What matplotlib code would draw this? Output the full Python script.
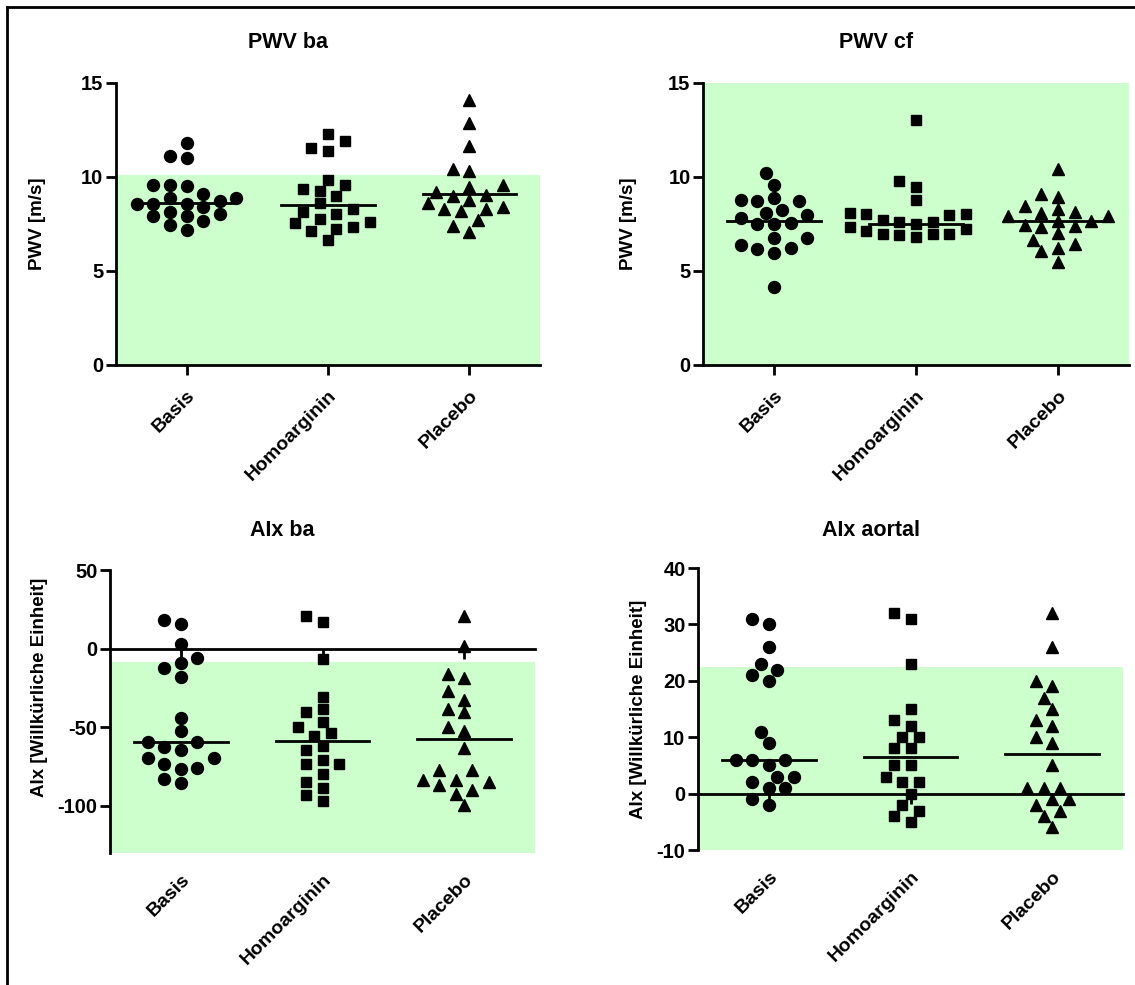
import numpy as np
import matplotlib
matplotlib.use('Agg')
import matplotlib.pyplot as plt
from matplotlib.lines import Line2D

plt.rcParams['font.family'] = ['Liberation Sans', 'DejaVu Sans']
plt.rcParams['font.weight'] = 'bold'
plt.rcParams['axes.unicode_minus'] = False

# groups shared by all four panels
groups = ['Basis', 'Homoarginin', 'Placebo']
markers = ['o', 's', '^']
marker_sizes = [8.6, 7.8, 9.0]

# PWV ba [m/s]
pwv_ba_basis = [11.8, 11.1, 11.0, 9.6, 9.5, 9.6, 9.1, 8.9, 8.9, 8.7, 8.55,
                8.4, 8.55, 8.55, 7.9, 8.15, 8.05, 7.9, 7.65, 7.45, 7.2]
pwv_ba_homo = [12.3, 11.9, 11.55, 11.4, 9.85, 9.6, 9.25, 9.35, 9.0, 8.6,
               8.3, 8.15, 8.05, 7.55, 7.75, 7.25, 7.6, 7.35, 7.15, 6.65]
pwv_ba_placebo = [14.1, 12.85, 11.65, 10.3, 10.45, 9.45, 9.55, 9.0, 9.05,
                  8.8, 8.6, 8.4, 8.3, 8.2, 8.3, 7.7, 7.4, 7.1, 9.2]
pwv_ba_means = [8.6, 8.5, 9.1]

# PWV cf [m/s]
pwv_cf_basis = [10.2, 9.6, 8.9, 8.7, 8.7, 8.8, 8.25, 8.1, 8.0, 7.8, 7.55,
                7.5, 7.5, 6.75, 6.75, 6.4, 6.25, 6.15, 5.95, 4.15]
pwv_cf_homo = [13.05, 9.8, 9.45, 8.8, 8.05, 8.0, 8.1, 8.05, 7.6, 7.6, 6.95,
               6.95, 6.8, 6.9, 6.95, 7.35, 7.25, 7.15, 7.5, 7.7]
pwv_cf_placebo = [10.45, 8.95, 9.1, 8.45, 8.15, 8.3, 8.1, 7.9, 7.4, 7.65,
                  7.65, 7.9, 7.45, 7.35, 7.0, 6.65, 6.2, 6.45, 6.05, 5.5]
pwv_cf_means = [7.65, 7.5, 7.65]

# AIx ba
aix_ba_basis = [15.4, 17.9, 2.7, -9.3, -6.1, -12.4, -17.9, -44.3, -52.7, -59.1,
                -59.5, -62.7, -64.8, -69.4, -69.4, -73.6, -75.7, -76.4, -83.1, -85.4]
aix_ba_homo = [20.7, 16.9, -6.3, -30.6, -38.4, -40.5, -46.4, -50.0, -53.6, -55.3,
               -62.2, -64.8, -71.1, -73.2, -73.6, -79.5, -84.8, -88.4, -92.8, -97.0]
aix_ba_placebo = [20.7, 1.7, -16.2, -18.4, -26.8, -32.5, -38.4, -40.5, -49.6, -52.1,
                  -63.3, -77.4, -77.4, -83.8, -83.8, -84.8, -90.1, -86.9, -92.2, -99.2]
aix_ba_means = [-59.5, -59.0, -57.5]

# AIx aortal
aix_ao_basis = [30, 31, 26, 22, 23, 20, 21, 11, 9, 6, 6, 6, 5, 3, 3, 2, 1, 1, -1, -2]
aix_ao_homo = [31, 32, 23, 15, 13, 12, 10, 10, 8, 8, 5, 5, 3, 2, 2, 0, -2, -3, -4, -5]
aix_ao_placebo = [32, 26, 20, 19, 17, 15, 13, 12, 10, 9, 5, 1, 1, 1, -1, -1, -3, -2, -4, -6]
aix_ao_means = [6.0, 6.5, 7.0]

# normal ranges (green bands)
bands = [(0, 10.1), (0, 15), (-130, -8.5), (-10, 22.4)]

W, H = 1135, 985
GREEN = '#ccffcc'

fig = plt.figure(figsize=(W / 100, H / 100), dpi=100)


def swarm_offsets(values, ppu_y, ppu_x, step_px=8.3, half_w=16.5, half_h=12.0):
    # simple beeswarm in pixel space: smallest side shift that avoids overlap
    y = np.asarray(values, float) * ppu_y
    order = np.argsort(y, kind='stable')
    cands = [0] + [s * j for j in range(1, 40) for s in (-1, 1)]
    placed = []
    offs = np.zeros(len(y))
    for i in order:
        for c in cands:
            x = c * step_px
            if all(((x - qx) / half_w) ** 2 + ((y[i] - qy) / half_h) ** 2 >= 1
                   for qx, qy in placed):
                break
        placed.append((x, y[i]))
        offs[i] = x / ppu_x
    return offs


def draw_panel(px_rect, title, ylabel, series, means, ylim, yticks, band,
               zero_axis, ylabel_xy, title_y):
    left, top, right, bottom = px_rect
    ax = fig.add_axes([left / W, 1 - bottom / H, (right - left) / W, (bottom - top) / H])
    ax.set_xlim(-0.5, 2.5)
    ax.set_ylim(*ylim)
    ax.set_facecolor('none')
    ax.axhspan(band[0], band[1], color=GREEN, lw=0, zorder=0)

    ppu_y = (bottom - top) / (ylim[1] - ylim[0])
    ppu_x = (right - left) / 3.0
    for i, vals in enumerate(series):
        offs = swarm_offsets(vals, ppu_y, ppu_x)
        ax.plot(i + offs, vals, ls='none', marker=markers[i], ms=marker_sizes[i],
                color='black', mec='black', zorder=3)
        ax.plot([i - 0.33, i + 0.33], [means[i], means[i]], color='black', lw=2, zorder=4)

    for s in ['top', 'right']:
        ax.spines[s].set_visible(False)
    ax.spines['left'].set_linewidth(2)
    ax.spines['bottom'].set_linewidth(2)
    ax.set_yticks(yticks)
    ax.tick_params(axis='y', length=7, width=2, labelsize=14.5, pad=2)
    ax.set_xticks(range(3))
    if zero_axis:
        # x axis drawn at y = 0, category labels stay below the plot
        ax.spines['bottom'].set_visible(False)
        ax.tick_params(axis='x', length=0, pad=13)
        frac = (0 - ylim[0]) / (ylim[1] - ylim[0])
        sec = ax.secondary_xaxis(frac)
        sec.set_alignment('bottom')
        sec.set_xticks(range(3))
        sec.set_xticklabels(['', '', ''])
        sec.spines['bottom'].set_linewidth(2)
        sec.tick_params(axis='x', length=7, width=2, direction='out')
    else:
        ax.tick_params(axis='x', length=7, width=2, pad=9)
    ax.set_xticklabels(groups, rotation=45, ha='right', rotation_mode='anchor',
                       fontsize=14, fontweight='bold')
    for lab in ax.get_yticklabels():
        lab.set_fontweight('bold')

    ax.text(ylabel_xy[0], ylabel_xy[1], ylabel, transform=ax.transAxes, rotation=90,
            ha='center', va='center', fontsize=13.5, fontweight='bold')
    cx = (left + right) / 2 - 40
    fig.text(cx / W, 1 - title_y / H, title, ha='center', va='center',
             fontsize=15.5, fontweight='bold')
    return ax


draw_panel((116, 83, 540, 365), 'PWV ba', 'PWV [m/s]',
           [pwv_ba_basis, pwv_ba_homo, pwv_ba_placebo], pwv_ba_means,
           (0, 15), [0, 5, 10, 15], bands[0], False, (-0.186, 0.5), 43)
draw_panel((703, 83, 1129, 365), 'PWV cf', 'PWV [m/s]',
           [pwv_cf_basis, pwv_cf_homo, pwv_cf_placebo], pwv_cf_means,
           (0, 15), [0, 5, 10, 15], bands[1], False, (-0.176, 0.5), 43)
draw_panel((110, 570, 535, 853), 'AIx ba', 'AIx [Willkürliche Einheit]',
           [aix_ba_basis, aix_ba_homo, aix_ba_placebo], aix_ba_means,
           (-130, 50), [-100, -50, 0, 50], bands[2], True, (-0.167, 0.587), 530)
draw_panel((698, 568, 1123, 850), 'AIx aortal', 'AIx [Willkürliche Einheit]',
           [aix_ao_basis, aix_ao_homo, aix_ao_placebo], aix_ao_means,
           (-10, 40), [-10, 0, 10, 20, 30, 40], bands[3], True, (-0.141, 0.5), 530)

# frame of the original figure (only left and top edges are visible)
fig.add_artist(Line2D([7 / W, 7 / W], [0, 1 - 7 / H], transform=fig.transFigure,
                      color='black', lw=2))
fig.add_artist(Line2D([7 / W, 1], [1 - 7 / H, 1 - 7 / H], transform=fig.transFigure,
                      color='black', lw=2))

fig.savefig('out.png', dpi=100)
